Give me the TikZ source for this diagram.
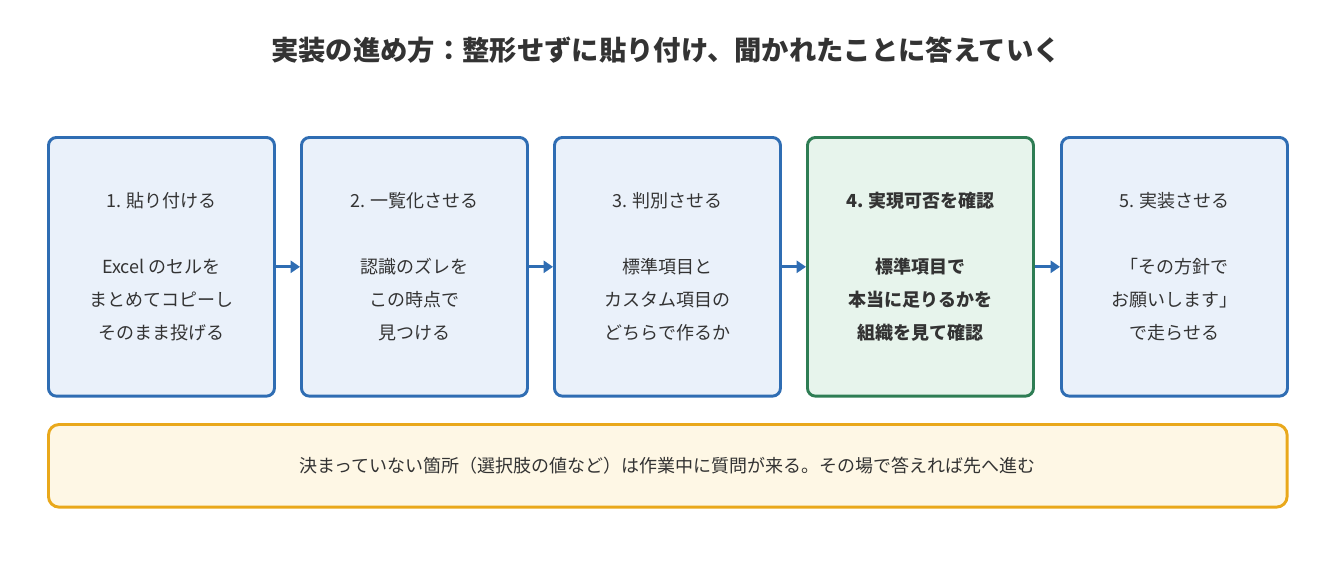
\documentclass[tikz,border=0pt]{standalone}
\usepackage{fontspec}
\setmainfont{Noto Sans CJK JP}
\usetikzlibrary{arrows.meta}
\definecolor{bb}{HTML}{2F6DB3}
\definecolor{bf}{HTML}{EAF1FA}
\definecolor{gb}{HTML}{2E7D54}
\definecolor{gf}{HTML}{E7F4EC}
\definecolor{ob}{HTML}{E9A81B}
\definecolor{of}{HTML}{FEF7E5}
\definecolor{tx}{HTML}{333333}
\begin{document}
\begin{tikzpicture}[x=0.75pt,y=-0.75pt,
 box/.style={draw=bb,fill=bf,line width=2.2pt,rounded corners=6pt,minimum width=169.5pt,minimum height=194pt,anchor=north west,text=tx,align=center,font=\fontsize{13.5pt}{24.75pt}\selectfont},
 gbox/.style={box,draw=gb,fill=gf,font=\fontsize{13.5pt}{24.75pt}\selectfont\bfseries},
 arr/.style={draw=bb,line width=2.5pt,-{Triangle[length=7pt,width=9pt]}}]
\useasboundingbox (0,0) rectangle (1332,562);
\node[font=\fontsize{20.5pt}{24pt}\selectfont\bfseries,text=tx] (t) at (666,50) {実装の進め方：整形せずに貼り付け、聞かれたことに答えていく};
\node[box] (b1) at (47,136) {1. 貼り付ける\\ \\Excel のセルを\\まとめてコピーし\\そのまま投げる};
\node[box] (b2) at (300,136) {2. 一覧化させる\\ \\認識のズレを\\この時点で\\見つける};
\node[box] (b3) at (553,136) {3. 判別させる\\ \\標準項目と\\カスタム項目の\\どちらで作るか};
\node[gbox] (b4) at (806,136) {4. 実現可否を確認\\ \\標準項目で\\本当に足りるかを\\組織を見て確認};
\node[box] (b5) at (1060,136) {5. 実装させる\\ \\「その方針で\\お願いします」\\で走らせる};
\draw[arr] (b1.east) -- (b2.west);
\draw[arr] (b2.east) -- (b3.west);
\draw[arr] (b3.east) -- (b4.west);
\draw[arr] (b4.east) -- (b5.west);
\node[draw=ob,fill=of,line width=2.2pt,rounded corners=8pt,minimum width=929pt,minimum height=62pt,anchor=north west,text=tx,font=\fontsize{13.5pt}{16pt}\selectfont] (n) at (47,423) {決まっていない箇所（選択肢の値など）は作業中に質問が来る。その場で答えれば先へ進む};
\end{tikzpicture}
\end{document}
